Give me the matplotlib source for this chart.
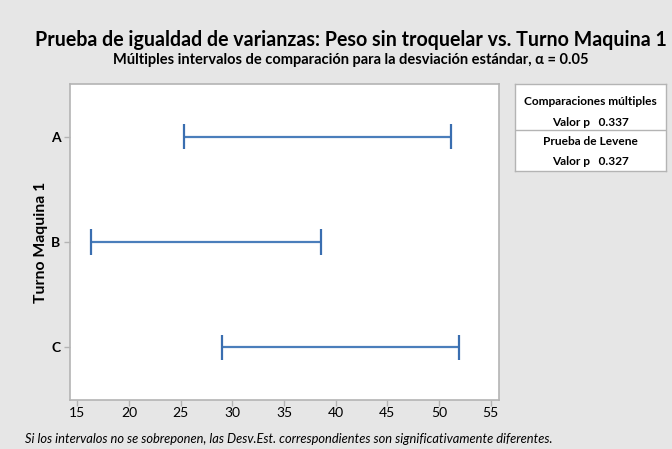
import matplotlib
matplotlib.use('Agg')
import matplotlib.pyplot as plt
from matplotlib.lines import Line2D

plt.rcParams['font.family'] = ['Lato', 'DejaVu Sans']

# ---------------------------------------------------------
#                      data
# ---------------------------------------------------------

grupos = ['A', 'B', 'C']
limite_inf = [25.35, 16.33, 29.0]
limite_sup = [51.13, 38.61, 51.93]
p_multiples = 0.337
p_levene = 0.327

titulo = 'Prueba de igualdad de varianzas: Peso sin troquelar vs. Turno Maquina 1'
subtitulo = 'Múltiples intervalos de comparación para la desviación estándar, α = 0.05'
nota = 'Si los intervalos no se sobreponen, las Desv.Est. correspondientes son significativamente diferentes.'

# ---------------------------------------------------------
#                      plot
# ---------------------------------------------------------

W, H = 672, 449
fondo = '#e6e6e6'
azul = '#4a7ebb'
gris = '#b4b4b4'

fig = plt.figure(figsize=(W / 100, H / 100), dpi=100, facecolor=fondo)
ax = fig.add_axes([70 / W, 1 - 400 / H, (499 - 70) / W, (400 - 84) / H])
ax.set_facecolor('white')

pos = list(range(1, len(grupos) + 1))
for y, lo, hi in zip(pos, limite_inf, limite_sup):
    ax.plot([lo, hi], [y, y], color=azul, lw=1.6, solid_capstyle='butt')
    for x in (lo, hi):
        ax.plot([x, x], [y - 0.12, y + 0.12], color='#3a6eb0', lw=1.6,
                solid_capstyle='butt')

ax.set_xlim(14.3, 55.8)
ax.set_ylim(len(grupos) + 0.5, 0.5)
ax.set_xticks(range(15, 56, 5))
ax.set_yticks(pos)
ax.set_yticklabels(grupos, fontweight='bold')
ax.tick_params(axis='both', colors=gris, length=4, width=1, labelsize=10,
               labelcolor='black')
ax.tick_params(axis='y', pad=3)
ax.tick_params(axis='x', pad=1)
for s in ax.spines.values():
    s.set_color(gris)
    s.set_linewidth(1.2)

fig.text(41 / W, 1 - 242 / H, 'Turno Maquina 1', rotation=90, ha='center',
         va='center', fontsize=11.3, fontweight='bold')

fig.text(351 / W, 1 - 40 / H, titulo, ha='center', va='center',
         fontsize=14.1, fontweight='bold')
fig.text(351 / W, 1 - 60 / H, subtitulo, ha='center', va='center',
         fontsize=10.5, fontweight='bold')
fig.text(25 / W, 1 - 439 / H, nota, ha='left', va='center',
         fontsize=9.3, style='italic')

# cuadro de resultados
bx = fig.add_axes([515 / W, 1 - 171 / H, (666 - 515) / W, (171 - 84) / H])
bx.set_xlim(0, 1)
bx.set_ylim(87, 0)
bx.set_xticks([])
bx.set_yticks([])
bx.set_facecolor('white')
for s in bx.spines.values():
    s.set_color(gris)
    s.set_linewidth(1)
bx.add_line(Line2D([0, 1], [46, 46], color=gris, lw=1))
bx.text(0.5, 17.7, 'Comparaciones múltiples', ha='center', va='center',
        fontsize=8.6, fontweight='bold')
bx.text(0.5, 38.7, f'Valor p   {p_multiples:.3f}', ha='center', va='center',
        fontsize=8.6, fontweight='bold')
bx.text(0.5, 57.7, 'Prueba de Levene', ha='center', va='center',
        fontsize=8.6, fontweight='bold')
bx.text(0.5, 77.7, f'Valor p   {p_levene:.3f}', ha='center', va='center',
        fontsize=8.6, fontweight='bold')

fig.savefig('out.png', dpi=100, facecolor=fondo)
